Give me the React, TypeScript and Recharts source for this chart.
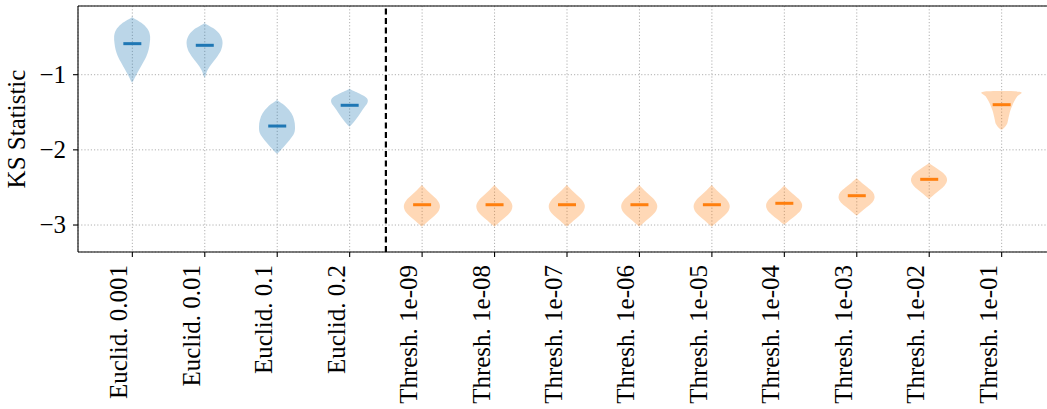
import React from 'react';
import { ComposedChart, Bar, Scatter, XAxis, YAxis, CartesianGrid, ReferenceLine } from 'recharts';

// categories along the x axis (positions 1..13)
const categories = [
  'Euclid. 0.001', 'Euclid. 0.01', 'Euclid. 0.1', 'Euclid. 0.2',
  'Thresh. 1e-09', 'Thresh. 1e-08', 'Thresh. 1e-07', 'Thresh. 1e-06', 'Thresh. 1e-05',
  'Thresh. 1e-04', 'Thresh. 1e-03', 'Thresh. 1e-02', 'Thresh. 1e-01',
];
const groups = ['euclid', 'euclid', 'euclid', 'euclid',
  'thresh', 'thresh', 'thresh', 'thresh', 'thresh', 'thresh', 'thresh', 'thresh', 'thresh'];

const medians = [-0.587, -0.609, -1.683, -1.407, -2.73, -2.73, -2.73, -2.73, -2.73, -2.711, -2.61, -2.392, -1.399];
const maxima = [-0.236, -0.316, -1.337, -1.19, -2.468, -2.468, -2.468, -2.468, -2.468, -2.477, -2.379, -2.179, -1.226];
const minima = [-1.093, -1.027, -2.046, -1.683, -3.013, -3.013, -3.013, -3.013, -3.013, -2.987, -2.867, -2.645, -1.723];

// relative violin widths, sampled evenly from the max (top) to the min (bottom)
const threshProfile = [0, 0.28, 0.58, 0.87, 1.0, 0.94, 0.7, 0.37, 0.04];
const profiles = [
  [0, 0.58, 0.9, 1.0, 0.98, 0.92, 0.8, 0.62, 0.42, 0.22, 0.04],
  [0, 0.62, 0.92, 1.0, 0.92, 0.7, 0.42, 0.17, 0.03],
  [0, 0.5, 0.8, 0.95, 1.0, 0.95, 0.7, 0.38, 0.03],
  [0, 0.55, 0.97, 1.0, 0.82, 0.64, 0.47, 0.27, 0.04],
  threshProfile, threshProfile, threshProfile, threshProfile, threshProfile, threshProfile,
  [0, 0.3, 0.62, 0.9, 1.0, 0.92, 0.67, 0.34, 0.04],
  [0, 0.38, 0.72, 0.95, 1.0, 0.88, 0.63, 0.32, 0.04],
  [1.0, 0.88, 0.72, 0.6, 0.5, 0.43, 0.37, 0.3, 0.08],
];

const yTicks = [-3, -2, -1];
const Y_MIN = -3.359;
const Y_MAX = -0.086;

const COLORS: Record<string, string> = { euclid: '#1f77b4', thresh: '#ff7f0e' };
const FONT = 'Liberation Serif';
const FONT_SIZE = 25;

const rows = categories.map((name, i) => ({
  pos: i + 1,
  name,
  group: groups[i],
  median: medians[i],
  range: [minima[i], maxima[i]],
  profile: profiles[i],
}));

// closed Catmull-Rom spline through the outline points
const smoothPath = (pts: number[][]) => {
  const n = pts.length;
  let d = `M${pts[0][0]},${pts[0][1]}`;
  for (let i = 0; i < n; i++) {
    const p0 = pts[(i - 1 + n) % n];
    const p1 = pts[i];
    const p2 = pts[(i + 1) % n];
    const p3 = pts[(i + 2) % n];
    const c1x = p1[0] + (p2[0] - p0[0]) / 6;
    const c1y = p1[1] + (p2[1] - p0[1]) / 6;
    const c2x = p2[0] - (p3[0] - p1[0]) / 6;
    const c2y = p2[1] - (p3[1] - p1[1]) / 6;
    d += ` C${c1x},${c1y} ${c2x},${c2y} ${p2[0]},${p2[1]}`;
  }
  return d + 'Z';
};

const Violin = (props: any) => {
  const { x, y, width, height, payload } = props;
  const top = Math.min(y, y + height);
  const h = Math.abs(height);
  const cx = x + width / 2;
  const half = width / 2;
  const prof: number[] = payload.profile;
  const k = prof.length - 1;
  const right = prof.map((w, i) => [cx + half * w, top + (h * i) / k]);
  const left = prof.map((w, i) => [cx - half * w, top + (h * i) / k]).reverse();
  const pts = [...right, ...left];
  return (
    <path d={smoothPath(pts)} fill={COLORS[payload.group]} fillOpacity={0.3} stroke="none" />
  );
};

const MedianLine = (props: any) => {
  const { cx, cy, payload } = props;
  return <line x1={cx - 9} x2={cx + 9} y1={cy} y2={cy} stroke={COLORS[payload.group]} strokeWidth={3} />;
};

const XTick = (props: any) => {
  const { x, y, payload } = props;
  return (
    <text x={x} y={y} transform={`rotate(-90, ${x}, ${y})`} textAnchor="end" dy={-5}
      fontFamily={FONT} fontSize={FONT_SIZE} fill="#000">
      {categories[payload.value - 1]}
    </text>
  );
};

const YTick = (props: any) => {
  const { x, y, payload } = props;
  return (
    <text x={x} y={y} textAnchor="end" dy="0.33em" fontFamily={FONT} fontSize={FONT_SIZE} fill="#000">
      {'\u2212' + Math.abs(payload.value)}
    </text>
  );
};

const YLabel = (props: any) => {
  const vb = props.viewBox || { x: 0, y: 6, width: 78, height: 246 };
  const cy = vb.y + vb.height / 2;
  const lx = 25;
  return (
    <text x={lx} y={cy} transform={`rotate(-90, ${lx}, ${cy})`} textAnchor="middle"
      fontFamily={FONT} fontSize={FONT_SIZE} fill="#000">
      KS Statistic
    </text>
  );
};

const App = () => {
  return (
    <div style={{ position: 'absolute', left: 0, top: 0, width: 1047, height: 409, overflow: 'hidden', background: '#fff' }}>
      <ComposedChart width={1056} height={409} data={rows} margin={{ top: 6, right: 0, bottom: 0, left: 0 }}>
        <CartesianGrid stroke="#b0b0b0" strokeDasharray="1.2 2" strokeWidth={1} />
        <XAxis
          dataKey="pos"
          type="number"
          domain={[0.25, 13.75]}
          ticks={rows.map((r) => r.pos)}
          interval={0}
          allowDataOverflow
          height={157}
          tickSize={5}
          tickMargin={8}
          tick={<XTick />}
          axisLine={{ stroke: '#000', strokeWidth: 1.1 }}
          tickLine={{ stroke: '#000', strokeWidth: 1.1 }}
        />
        <YAxis
          type="number"
          domain={[Y_MIN, Y_MAX]}
          ticks={yTicks}
          allowDataOverflow
          width={78}
          tickSize={5}
          tickMargin={7}
          tick={<YTick />}
          axisLine={{ stroke: '#000', strokeWidth: 1.1 }}
          tickLine={{ stroke: '#000', strokeWidth: 1.1 }}
          label={<YLabel />}
        />
        <ReferenceLine y={Y_MAX} stroke="#000" strokeWidth={1.1} ifOverflow="visible" />
        <Bar dataKey="range" barSize={36} shape={<Violin />} isAnimationActive={false} />
        <Scatter dataKey="median" shape={<MedianLine />} isAnimationActive={false} />
        <ReferenceLine x={4.5} stroke="#000" strokeWidth={2.2} strokeDasharray="6 3.5" />
      </ComposedChart>
    </div>
  );
};

export default App;
